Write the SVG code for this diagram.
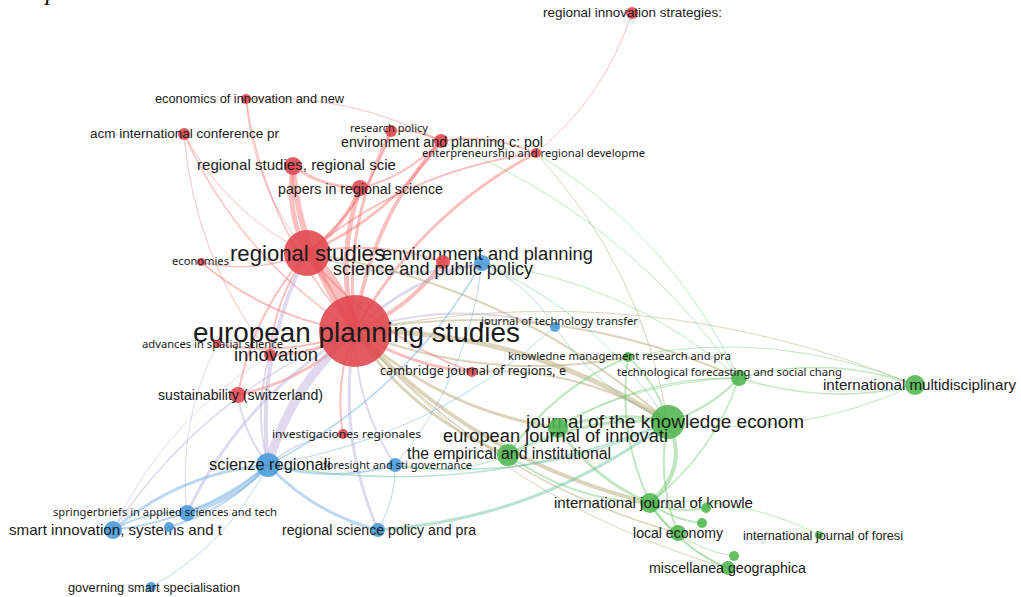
<svg xmlns="http://www.w3.org/2000/svg" width="1021" height="597" viewBox="0 0 1021 597">
<style>
.bg{fill:#ffffff}
.e{fill:none;stroke-linecap:round}
.er{stroke:#f26a6a;stroke-opacity:.42}
.eb{stroke:#6aa8e0;stroke-opacity:.45}
.eg{stroke:#72c872;stroke-opacity:.45}
.eo{stroke:#b8aa76;stroke-opacity:.5}
.el{stroke:#b3a6d4;stroke-opacity:.42}
.et{stroke:#74c6a8;stroke-opacity:.5}
.nr{fill:#e0464c;fill-opacity:.88}
.nb{fill:#4b9cd9;fill-opacity:.9}
.ng{fill:#4fb54f;fill-opacity:.88}
.t{font-family:"Liberation Sans",Arial,sans-serif;fill:#1a1a1a}
.s{font-family:"Noto Sans","Open Sans",sans-serif;fill:#1a1a1a}
</style>
<rect class="bg" x="0" y="0" width="1021" height="597"/>
<text x="8" y="0" font-family="Liberation Serif,serif" font-style="italic" font-size="26" fill="#111">Scopus database.</text>
<g id="connectors">
<path class="e er" stroke-width="12" d="M355 331 Q342 286 307 253"/>
<path class="e er" stroke-width="6" d="M293 166 Q299 256 355 331"/>
<path class="e er" stroke-width="5" d="M360 188 Q335 260 355 331"/>
<path class="e er" stroke-width="4" d="M441 141 Q368 223 355 331"/>
<path class="e er" stroke-width="3" d="M391 131 Q342 225 355 331"/>
<path class="e er" stroke-width="3" d="M536 153 Q419 215 355 331"/>
<path class="e er" stroke-width="1.5" d="M246 99 Q265 231 355 331"/>
<path class="e er" stroke-width="1.5" d="M184 134 Q240 258 355 331"/>
<path class="e er" stroke-width="2" d="M201 262 Q268 319 355 331"/>
<path class="e er" stroke-width="4" d="M355 331 Q409 309 443 262"/>
<path class="e er" stroke-width="3" d="M270 355 Q316 355 355 331"/>
<path class="e er" stroke-width="2" d="M217 344 Q289 358 355 331"/>
<path class="e er" stroke-width="3" d="M238 395 Q307 380 355 331"/>
<path class="e er" stroke-width="2" d="M355 331 Q334 380 343 434"/>
<path class="e er" stroke-width="3" d="M355 331 Q408 366 472 372"/>
<path class="e el" stroke-width="9" d="M355 331 Q292 383 268 465"/>
<path class="e el" stroke-width="3" d="M482 263 Q408 278 355 331"/>
<path class="e el" stroke-width="2" d="M555 327 Q454 298 355 331"/>
<path class="e el" stroke-width="3" d="M355 331 Q336 433 378 530"/>
<path class="e el" stroke-width="1.5" d="M355 331 Q204 394 113 530"/>
<path class="e el" stroke-width="3" d="M355 331 Q243 396 187 513"/>
<path class="e el" stroke-width="2" d="M355 331 Q355 404 395 465"/>
<path class="e eo" stroke-width="5" d="M668 422 Q525 329 355 331"/>
<path class="e eo" stroke-width="4" d="M355 331 Q477 461 650 503"/>
<path class="e eo" stroke-width="3" d="M355 331 Q412 417 508 455"/>
<path class="e eo" stroke-width="3" d="M355 331 Q442 411 558 428"/>
<path class="e eo" stroke-width="2" d="M739 378 Q554 295 355 331"/>
<path class="e eo" stroke-width="2" d="M355 331 Q487 384 628 357"/>
<path class="e eo" stroke-width="1.5" d="M355 331 Q486 480 678 533"/>
<path class="e eo" stroke-width="1" d="M915 385 Q643 273 355 331"/>
<path class="e eo" stroke-width="1" d="M355 331 Q506 505 728 568"/>
<path class="e er" stroke-width="5" d="M293 166 Q286 212 307 253"/>
<path class="e er" stroke-width="4" d="M307 253 Q342 231 360 188"/>
<path class="e er" stroke-width="3" d="M307 253 Q389 218 441 141"/>
<path class="e er" stroke-width="1.5" d="M201 262 Q255 275 307 253"/>
<path class="e er" stroke-width="1" d="M184 134 Q227 214 307 253"/>
<path class="e er" stroke-width="1" d="M246 99 Q253 187 307 253"/>
<path class="e er" stroke-width="2" d="M307 253 Q274 300 270 355"/>
<path class="e er" stroke-width="2" d="M307 253 Q252 315 238 395"/>
<path class="e el" stroke-width="4" d="M307 253 Q256 354 268 465"/>
<path class="e er" stroke-width="2" d="M307 253 Q373 336 472 372"/>
<path class="e er" stroke-width="2" d="M443 262 Q376 239 307 253"/>
<path class="e er" stroke-width="2" d="M536 153 Q406 171 307 253"/>
<path class="e er" stroke-width="2" d="M307 253 Q367 205 391 131"/>
<path class="e eo" stroke-width="2" d="M668 422 Q512 284 307 253"/>
<path class="e el" stroke-width="2" d="M307 253 Q394 286 482 263"/>
<path class="e er" stroke-width="2" d="M360 188 Q404 178 441 141"/>
<path class="e er" stroke-width="2" d="M536 153 Q488 133 441 141"/>
<path class="e er" stroke-width="1" d="M536 153 Q604 98 632 13"/>
<path class="e er" stroke-width="2" d="M441 141 Q415 128 391 131"/>
<path class="e er" stroke-width="3" d="M293 166 Q321 187 360 188"/>
<path class="e er" stroke-width="1" d="M441 141 Q347 92 246 99"/>
<path class="e er" stroke-width="1" d="M184 134 Q194 258 270 355"/>
<path class="e el" stroke-width="2" d="M238 395 Q243 433 268 465"/>
<path class="e el" stroke-width="2" d="M270 355 Q253 409 268 465"/>
<path class="e eo" stroke-width="2" d="M668 422 Q578 365 472 372"/>
<path class="e el" stroke-width="1.5" d="M343 434 Q301 437 268 465"/>
<path class="e el" stroke-width="1" d="M270 355 Q165 419 113 530"/>
<path class="e el" stroke-width="1" d="M217 344 Q177 424 187 513"/>
<path class="e eb" stroke-width="5" d="M187 513 Q234 500 268 465"/>
<path class="e eb" stroke-width="3" d="M268 465 Q180 473 113 530"/>
<path class="e eb" stroke-width="2" d="M113 530 Q201 520 268 465"/>
<path class="e eb" stroke-width="2" d="M169 527 Q228 510 268 465"/>
<path class="e eb" stroke-width="3" d="M268 465 Q313 513 378 530"/>
<path class="e eb" stroke-width="2" d="M268 465 Q331 483 395 465"/>
<path class="e eb" stroke-width="1" d="M151 587 Q228 544 268 465"/>
<path class="e eb" stroke-width="1.5" d="M268 465 Q405 395 482 263"/>
<path class="e eb" stroke-width="1" d="M268 465 Q432 438 555 327"/>
<path class="e eb" stroke-width="2" d="M113 530 Q147 510 187 513"/>
<path class="e eb" stroke-width="1" d="M378 530 Q396 500 395 465"/>
<path class="e eb" stroke-width="1" d="M395 465 Q469 377 482 263"/>
<path class="e eb" stroke-width="1" d="M555 327 Q528 284 482 263"/>
<path class="e et" stroke-width="3" d="M378 530 Q539 519 668 422"/>
<path class="e et" stroke-width="1" d="M395 465 Q453 478 508 455"/>
<path class="e et" stroke-width="1.5" d="M395 465 Q538 484 668 422"/>
<path class="e et" stroke-width="1.5" d="M268 465 Q474 502 668 422"/>
<path class="e et" stroke-width="1" d="M668 422 Q599 314 482 263"/>
<path class="e eg" stroke-width="1" d="M739 378 Q627 281 482 263"/>
<path class="e et" stroke-width="1" d="M555 327 Q597 390 668 422"/>
<path class="e eg" stroke-width="4" d="M668 422 Q690 468 650 503"/>
<path class="e eg" stroke-width="3" d="M558 428 Q594 480 650 503"/>
<path class="e eg" stroke-width="3" d="M668 422 Q613 409 558 428"/>
<path class="e eg" stroke-width="3" d="M668 422 Q583 415 508 455"/>
<path class="e eg" stroke-width="2" d="M508 455 Q572 501 650 503"/>
<path class="e eg" stroke-width="2" d="M668 422 Q710 409 739 378"/>
<path class="e eg" stroke-width="2" d="M668 422 Q657 383 628 357"/>
<path class="e eg" stroke-width="2" d="M628 357 Q552 389 508 455"/>
<path class="e eg" stroke-width="2" d="M628 357 Q617 433 650 503"/>
<path class="e eg" stroke-width="1.5" d="M739 378 Q826 406 915 385"/>
<path class="e eg" stroke-width="1.5" d="M915 385 Q828 354 739 378"/>
<path class="e eg" stroke-width="1" d="M668 422 Q797 440 915 385"/>
<path class="e eg" stroke-width="2" d="M650 503 Q660 522 678 533"/>
<path class="e eg" stroke-width="2" d="M650 503 Q679 548 728 568"/>
<path class="e eg" stroke-width="2" d="M650 503 Q677 514 706 508"/>
<path class="e eg" stroke-width="2" d="M650 503 Q673 520 702 523"/>
<path class="e eg" stroke-width="1" d="M678 533 Q702 552 734 556"/>
<path class="e eg" stroke-width="1" d="M819 535 Q740 494 650 503"/>
<path class="e eg" stroke-width="1.5" d="M739 378 Q714 453 650 503"/>
<path class="e eg" stroke-width="1.5" d="M739 378 Q641 376 558 428"/>
<path class="e eg" stroke-width="1" d="M739 378 Q611 382 508 455"/>
<path class="e eg" stroke-width="2" d="M668 422 Q656 479 678 533"/>
<path class="e eg" stroke-width="1" d="M678 533 Q698 558 728 568"/>
<path class="e eg" stroke-width="1" d="M915 385 Q775 327 628 357"/>
<path class="e eg" stroke-width="1" d="M739 378 Q671 235 536 153"/>
<path class="e eo" stroke-width="1" d="M668 422 Q642 268 536 153"/>
<path class="e eg" stroke-width="1" d="M739 378 Q623 213 441 141"/>
</g>
<g id="n-eps"><circle class="nr" cx="355" cy="331" r="36"/><text class="t" x="193" y="342" font-size="28" textLength="327" lengthAdjust="spacingAndGlyphs">european planning studies</text></g>
<g id="n-rs"><circle class="nr" cx="307" cy="253" r="23"/><text class="t" x="230" y="261" font-size="22" textLength="155" lengthAdjust="spacingAndGlyphs">regional studies</text></g>
<g id="n-jke"><circle class="ng" cx="668" cy="422" r="17"/><text class="t" x="526" y="428" font-size="19" textLength="278" lengthAdjust="spacingAndGlyphs">journal of the knowledge econom</text></g>
<g id="n-sci"><circle class="nb" cx="268" cy="465" r="12"/><text class="t" x="209" y="470" font-size="16" textLength="122" lengthAdjust="spacingAndGlyphs">scienze regionali</text></g>
<g id="n-emp"><circle class="ng" cx="508" cy="455" r="11"/><text class="t" x="407" y="459" font-size="16" textLength="204" lengthAdjust="spacingAndGlyphs">the empirical and institutional</text></g>
<g id="n-eji"><circle class="ng" cx="558" cy="428" r="10"/><text class="t" x="443" y="442" font-size="18" textLength="225" lengthAdjust="spacingAndGlyphs">european journal of innovati</text></g>
<g id="n-imd"><circle class="ng" cx="915" cy="385" r="10"/><text class="t" x="823" y="390" font-size="15" textLength="193" lengthAdjust="spacingAndGlyphs">international multidisciplinary</text></g>
<g id="n-ijk"><circle class="ng" cx="650" cy="503" r="10"/><text class="t" x="554" y="508" font-size="15" textLength="199" lengthAdjust="spacingAndGlyphs">international journal of knowle</text></g>
<g id="n-smi"><circle class="nb" cx="113" cy="530" r="9"/><text class="t" x="9" y="535" font-size="15" textLength="213" lengthAdjust="spacingAndGlyphs">smart innovation, systems and t</text></g>
<g id="n-rsrs"><circle class="nr" cx="293" cy="166" r="9"/><text class="t" x="197" y="170" font-size="15" textLength="199" lengthAdjust="spacingAndGlyphs">regional studies, regional scie</text></g>
<g id="n-env"><circle class="nb" cx="482" cy="263" r="8"/><text class="t" x="382" y="260" font-size="18" textLength="211" lengthAdjust="spacingAndGlyphs">environment and planning</text></g>
<g id="n-spp"><circle class="nr" cx="443" cy="262" r="7"/><text class="t" x="333" y="275" font-size="18" textLength="200" lengthAdjust="spacingAndGlyphs">science and public policy</text></g>
<g id="n-pap"><circle class="nr" cx="360" cy="188" r="8"/><text class="t" x="278" y="194" font-size="14" textLength="165" lengthAdjust="spacingAndGlyphs">papers in regional science</text></g>
<g id="n-sus"><circle class="nr" cx="238" cy="395" r="8"/><text class="t" x="158" y="400" font-size="14" textLength="165" lengthAdjust="spacingAndGlyphs">sustainability (switzerland)</text></g>
<g id="n-spr"><circle class="nb" cx="187" cy="513" r="8"/><text class="s" x="53" y="516" font-size="11.5" textLength="224" lengthAdjust="spacingAndGlyphs">springerbriefs in applied sciences and tech</text></g>
<g id="n-tec"><circle class="ng" cx="739" cy="378" r="8"/><text class="s" x="617" y="376" font-size="11.5" textLength="225" lengthAdjust="spacingAndGlyphs">technological forecasting and social chang</text></g>
<g id="n-loc"><circle class="ng" cx="678" cy="533" r="8"/><text class="t" x="633" y="538" font-size="14" textLength="90" lengthAdjust="spacingAndGlyphs">local economy</text></g>
<g id="n-epc"><circle class="nr" cx="441" cy="141" r="7"/><text class="t" x="341" y="147" font-size="14" textLength="202" lengthAdjust="spacingAndGlyphs">environment and planning c: pol</text></g>
<g id="n-rsp"><circle class="nb" cx="378" cy="530" r="7"/><text class="t" x="282" y="535" font-size="14" textLength="194" lengthAdjust="spacingAndGlyphs">regional science policy and pra</text></g>
<g id="n-for"><circle class="nb" cx="395" cy="465" r="7"/><text class="s" x="323" y="469" font-size="11.5" textLength="149" lengthAdjust="spacingAndGlyphs">foresight and sti governance</text></g>
<g id="n-mis"><circle class="ng" cx="728" cy="568" r="7"/><text class="t" x="649" y="573" font-size="14" textLength="157" lengthAdjust="spacingAndGlyphs">miscellanea geographica</text></g>
<g id="n-inn"><circle class="nr" cx="270" cy="355" r="6"/><text class="t" x="234" y="361" font-size="18" textLength="84" lengthAdjust="spacingAndGlyphs">innovation</text></g>
<g id="n-acm"><circle class="nr" cx="184" cy="134" r="6"/><text class="t" x="90" y="138" font-size="13.5" textLength="189" lengthAdjust="spacingAndGlyphs">acm international conference pr</text></g>
<g id="n-rp"><circle class="nr" cx="391" cy="131" r="6"/><text class="s" x="350" y="132" font-size="11.5" textLength="78" lengthAdjust="spacingAndGlyphs">research policy</text></g>
<g id="n-ris"><circle class="nr" cx="632" cy="13" r="6"/><text class="t" x="543" y="17" font-size="13" textLength="179" lengthAdjust="spacingAndGlyphs">regional innovation strategies:</text></g>
<g id="n-ent"><circle class="nr" cx="536" cy="153" r="5"/><text class="s" x="422" y="157" font-size="11.5" textLength="223" lengthAdjust="spacingAndGlyphs">enterpreneurship and regional developme</text></g>
<g id="n-eco"><circle class="nr" cx="246" cy="99" r="5"/><text class="t" x="155" y="103" font-size="13" textLength="189" lengthAdjust="spacingAndGlyphs">economics of innovation and new</text></g>
<g id="n-cam"><circle class="nr" cx="472" cy="372" r="5"/><text class="s" x="380" y="375" font-size="13" textLength="186" lengthAdjust="spacingAndGlyphs">cambridge journal of regions, e</text></g>
<g id="n-inv"><circle class="nr" cx="343" cy="434" r="5"/><text class="s" x="272" y="438" font-size="11.5" textLength="149" lengthAdjust="spacingAndGlyphs">investigaciones regionales</text></g>
<g id="n-jtt"><circle class="nb" cx="555" cy="327" r="5"/><text class="s" x="481" y="325" font-size="11.5" textLength="157" lengthAdjust="spacingAndGlyphs">journal of technology transfer</text></g>
<g id="n-kno"><circle class="ng" cx="628" cy="357" r="5"/><text class="s" x="508" y="360" font-size="11.5" textLength="223" lengthAdjust="spacingAndGlyphs">knowledne management research and pra</text></g>
<g id="n-sb2"><circle class="nb" cx="169" cy="527" r="5"/></g>
<g id="n-gov"><circle class="nb" cx="151" cy="587" r="5"/><text class="t" x="68" y="592" font-size="13" textLength="172" lengthAdjust="spacingAndGlyphs">governing smart specialisation</text></g>
<g id="n-g1"><circle class="ng" cx="706" cy="508" r="5"/></g>
<g id="n-g2"><circle class="ng" cx="702" cy="523" r="5"/></g>
<g id="n-g3"><circle class="ng" cx="734" cy="556" r="5"/></g>
<g id="n-ecn"><circle class="nr" cx="201" cy="262" r="4"/><text class="s" x="172" y="265" font-size="11" textLength="57" lengthAdjust="spacingAndGlyphs">economies</text></g>
<g id="n-adv"><circle class="nr" cx="217" cy="344" r="4"/><text class="s" x="142" y="348" font-size="11.5" textLength="141" lengthAdjust="spacingAndGlyphs">advances in spatial science</text></g>
<g id="n-ijf"><circle class="ng" cx="819" cy="535" r="4"/><text class="t" x="743" y="540" font-size="13" textLength="160" lengthAdjust="spacingAndGlyphs">international journal of foresi</text></g>
</svg>
